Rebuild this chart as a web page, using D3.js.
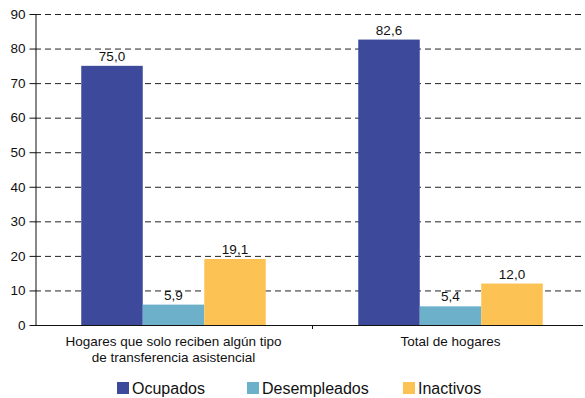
<!DOCTYPE html>
<html><head><meta charset="utf-8">
<script src="https://cdn.jsdelivr.net/npm/d3@7"></script>
<style>body{margin:0;background:#fff}svg{display:block;font-family:"Liberation Sans",Arial,sans-serif}</style>
</head><body><svg id="c" width="585" height="398"></svg>
<script>
const categories = [["Hogares que solo reciben algún tipo","de transferencia asistencial"],["Total de hogares"]];
const seriesNames = ["Ocupados","Desempleados","Inactivos"];
const ocupados = [75.0, 82.6];
const desempleados = [5.9, 5.4];
const inactivos = [19.1, 12.0];
const yTicks = [0,10,20,30,40,50,60,70,80,90];
const colors = ["#3D4A9C","#6CB0CA","#FDC254"];
const series = [ocupados, desempleados, inactivos];

const svg = d3.select("#c");
const y = d3.scaleLinear().domain([0,90]).range([325,14]);
const x0 = d3.scaleBand().domain([0,1]).range([35,589]).paddingInner(0).paddingOuter(0);
const bw = 61.5;
const x1 = d3.scaleBand().domain([0,1,2]).range([0,bw*3]);

// gridlines
svg.append("g").selectAll("line").data(yTicks.filter(d=>d>0)).join("line")
  .attr("x1",35).attr("x2",582).attr("y1",d=>y(d)+0.5).attr("y2",d=>y(d)+0.5)
  .attr("stroke","#222").attr("stroke-width",1).attr("stroke-dasharray","6,4");

// bars
categories.forEach((c,i)=>{
  const cx = x0(i)+x0.bandwidth()/2;
  const start = cx - bw*3/2;
  series.forEach((s,j)=>{
    svg.append("rect").attr("x",start+x1(j)).attr("y",y(s[i])).attr("width",x1.bandwidth()).attr("height",y(0)-y(s[i])).attr("fill",colors[j]);
    svg.append("text").attr("x",start+x1(j)+x1.bandwidth()/2).attr("y",y(s[i])-5)
      .attr("text-anchor","middle").attr("font-size",13.5).attr("fill","#111")
      .text(d3.format(".1f")(s[i]).replace(".",","));
  });
  svg.append("text").attr("text-anchor","middle").attr("font-size",13.5).attr("fill","#111")
    .selectAll("tspan").data(c).join("tspan").attr("x",cx).attr("y",(d,k)=>346+k*16).text(d=>d);
});

// y axis
const ya = svg.append("g").attr("transform","translate(35.5,0)").call(d3.axisLeft(y).tickValues(yTicks).tickSize(6).tickSizeOuter(0));
ya.select(".domain").attr("stroke","#111");
ya.selectAll(".tick line").attr("stroke","#111");
ya.selectAll("text").attr("font-size",13.5).attr("fill","#111").attr("font-family","Liberation Sans, Arial, sans-serif").attr("x",-10);

// x axis line
svg.append("line").attr("x1",35).attr("x2",583).attr("y1",325.5).attr("y2",325.5).attr("stroke","#111");
svg.append("line").attr("x1",x0(1)+0.5).attr("x2",x0(1)+0.5).attr("y1",325).attr("y2",329).attr("stroke","#111");

// legend
const lx = [117,247,403];
seriesNames.forEach((n,j)=>{
  svg.append("rect").attr("x",lx[j]).attr("y",382).attr("width",12).attr("height",12).attr("fill",colors[j]);
  svg.append("text").attr("x",lx[j]+15).attr("y",394).attr("font-size",16).attr("fill","#111").text(n);
});
</script></body></html>
